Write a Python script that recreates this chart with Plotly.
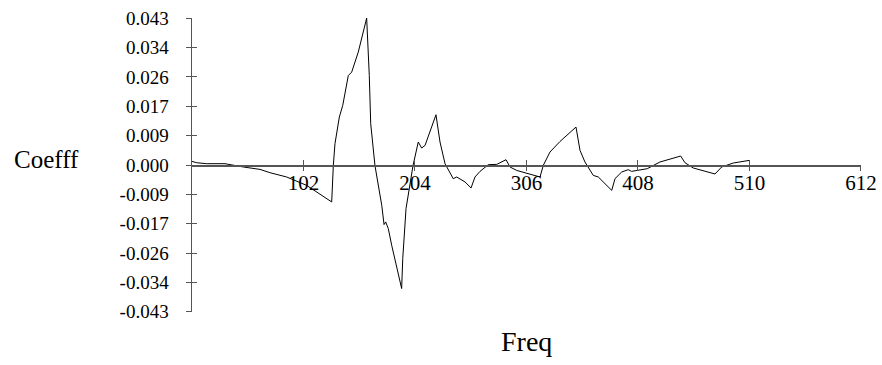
import plotly.graph_objects as go

freq = [0, 4.3, 13.4, 30.2, 46.9, 62.2, 71.3, 86.6, 104.9, 127.8,
        129.3, 130.8, 134.8, 137.9, 143.0, 146.1, 152.1, 159.8,
        162.2, 163.5, 167.4, 170.5, 173.6, 175.7, 177.2, 179.6, 182.7, 191.8,
        192.8, 195.8, 199.5, 202.2, 207.0, 210.1, 213.2, 219.3, 223.2,
        226.9, 231.5, 239.0, 242.2, 249.8, 255.3, 258.9, 263.5, 271.1,
        278.8, 287.3, 290.9, 297.0, 304.6, 318.4, 321.4, 327.5, 336.7,
        351.3, 355.0, 359.5, 367.1, 371.7, 384.0, 387.0, 393.1, 399.1,
        402.2, 412.9, 416.5, 428.1, 447.1, 451.0, 458.6, 478.5, 484.6,
        495.2, 509.8]
coeff = [0.00105, 0.00067, 0.00038, 0.00038, -0.00058, -0.00129, -0.00225, -0.00351, -0.00597, -0.01082,
         -0.0001, 0.00623, 0.01404, 0.01743, 0.02621, 0.0272, 0.03305, 0.043,
         0.02621, 0.01208, -0.0002, -0.00597, -0.01182, -0.01744, -0.01667, -0.01863, -0.02352, -0.03618,
         -0.02741, -0.01278, -0.00497, -0.0002, 0.00673, 0.00497, 0.00573, 0.01111, 0.01471,
         0.00673, 0.00038, -0.00401, -0.00351, -0.00497, -0.00673, -0.00351, -0.00187, 0.0001,
         0.00018, 0.00155, -0.00058, -0.00158, -0.00225, -0.00351, -0.0001, 0.0038, 0.0069,
         0.01111, 0.00427, 0.00088, -0.00304, -0.00351, -0.00743, -0.004, -0.00205, -0.00137,
         -0.00187, -0.00137, -0.00108, 0.00088, 0.00263, 0.00067, -0.00088, -0.00263, -0.00058,
         0.00058, 0.00135]

x_tick_vals = [102, 204, 306, 408, 510, 612]
x_tick_text = ["102", "204", "306", "408", "510", "612"]
y_tick_vals = [0.043, 0.0344, 0.0258, 0.0172, 0.0086, 0.0,
               -0.0086, -0.0172, -0.0258, -0.0344, -0.043]
y_tick_text = ["0.043", "0.034", "0.026", "0.017", "0.009", "0.000",
               "-0.009", "-0.017", "-0.026", "-0.034", "-0.043"]

AX = "#555555"
FONT = "Liberation Serif"
X_RANGE = [0, 612.05]
Y_RANGE = [-0.04305, 0.04305]

fig = go.Figure()
fig.add_trace(go.Scatter(x=freq, y=coeff, mode="lines",
                         line=dict(color="black", width=1), hoverinfo="skip"))
fig.add_trace(go.Scatter(x=[None], y=[None], xaxis="x2", yaxis="y2",
                         mode="lines", hoverinfo="skip"))

fig.update_layout(
    width=882, height=365,
    margin=dict(l=192, r=21, t=18, b=53, autoexpand=False),
    paper_bgcolor="white", plot_bgcolor="white",
    showlegend=False,
    font=dict(family=FONT, size=18, color="black"),
    xaxis=dict(range=X_RANGE, anchor="free", position=0.5, automargin=False,
               showline=True, linecolor=AX, linewidth=1.5,
               ticks="inside", ticklen=5, tickwidth=1, tickcolor=AX,
               tickvals=x_tick_vals, ticktext=x_tick_text,
               ticklabelstandoff=-2,
               showgrid=False, zeroline=False, fixedrange=True,
               tickfont=dict(family=FONT, size=21)),
    xaxis2=dict(range=X_RANGE, overlaying="x", anchor="free", position=0.5,
                automargin=False,
                showline=False, ticks="outside", ticklen=5, tickwidth=1,
                tickcolor=AX, tickvals=x_tick_vals, showticklabels=False,
                showgrid=False, zeroline=False, fixedrange=True),
    yaxis=dict(range=Y_RANGE, anchor="x", automargin=False,
               showline=True, linecolor=AX, linewidth=1.5,
               ticks="outside", ticklen=5, tickwidth=1, tickcolor=AX,
               tickvals=y_tick_vals, ticktext=y_tick_text,
               ticklabelstandoff=13,
               showgrid=False, zeroline=False, fixedrange=True,
               tickfont=dict(family=FONT, size=19)),
    yaxis2=dict(range=Y_RANGE, overlaying="y", anchor="x2", automargin=False,
                showline=False, ticks="inside", ticklen=5, tickwidth=1,
                tickcolor=AX, tickvals=y_tick_vals, showticklabels=False,
                showgrid=False, zeroline=False, fixedrange=True),
    annotations=[
        dict(text="Coefff", xref="paper", yref="paper", x=-0.218, y=0.52,
             xanchor="center", yanchor="middle", showarrow=False,
             font=dict(family=FONT, size=25, color="black")),
        dict(text="Freq", xref="paper", yref="paper", x=0.5, y=-0.102,
             xanchor="center", yanchor="middle", showarrow=False,
             font=dict(family=FONT, size=28, color="black")),
    ],
)

fig.write_html(
    "out.html",
    config={"displayModeBar": False, "staticPlot": True},
    post_script=(
        "document.documentElement.style.margin='0';"
        "document.documentElement.style.overflow='hidden';"
        "document.body.style.margin='0';"
        "document.body.style.overflow='hidden';"
    ),
)
